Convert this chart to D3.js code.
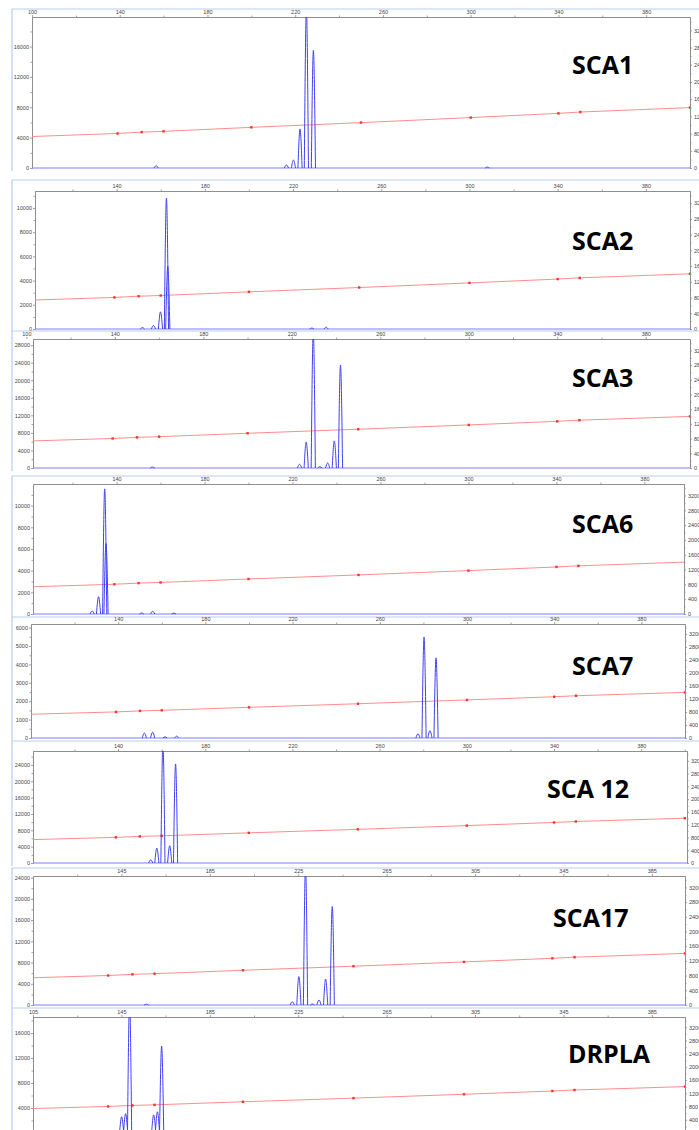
<!DOCTYPE html>
<html>
<head>
<meta charset="utf-8">
<script src="https://cdn.jsdelivr.net/npm/d3@7"></script>
<style>
  body { margin: 0; background: #fff; }
  svg { display: block; }
  .axis text { font-family: "Liberation Sans", Arial, sans-serif; font-size: 5.5px; fill: #444; }
  .axis path, .axis line { stroke: #8a8a8a; stroke-width: 0.8; }
  .name { font-family: "Open Sans", sans-serif; font-weight: 700; font-size: 25px; fill: #000; }
</style>
</head>
<body>
<svg id="chart"></svg>
<script>
'use strict';
// stacked electropherograms, one per repeat locus
// x = fragment size (bp), left axis = RFU, right axis = sizing curve units

const panelNames = ['SCA1', 'SCA2', 'SCA3', 'SCA6', 'SCA7', 'SCA 12', 'SCA17', 'DRPLA'];
const sizeStart = [100, 103, 103, 102, 100, 101, 105, 105];
const sizeEnd = [400, 400, 400, 398, 400, 401, 400, 400];
// first labelled size on each top axis, then every 40 bp
const sizeLabelStart = [100, 140, 100, 140, 140, 140, 145, 105];
const rfuMax = [19900, 11400, 29400, 12000, 6200, 27400, 24300, 18560];
const rfuStep = [4000, 2000, 4000, 2000, 1000, 4000, 4000, 4000];
const rightMax = 3510;
const rightTicks = [0, 400, 800, 1200, 1600, 2000, 2400, 2800, 3200];

// size standard fragments and the fitted sizing curve
const ladderSizes = [139, 150, 160, 200, 250, 300, 340, 350, 400];
const sizingCurve = [[100, 732], [139, 803], [150, 834], [160, 852], [200, 945], [250, 1055],
  [300, 1172], [340, 1270], [350, 1301], [400, 1404]];

// peaks: [size bp, height RFU]
const peaksSCA1 = [[156.6, 300], [216.0, 400], [219.2, 1050], [222.2, 5150], [225.1, 21000], [228.3, 15500], [307.6, 120]];
const peaksSCA2 = [[151.7, 120], [156.7, 280], [159.9, 1420], [162.6, 10800], [163.2, 5200], [228.5, 80], [235.0, 150]];
const peaksSCA3 = [[157.0, 200], [223.5, 850], [226.5, 5940], [229.7, 31000], [232.7, 300], [236.2, 1150], [239.2, 6170], [242.0, 23470]];
const peaksSCA6 = [[128.9, 280], [131.8, 1600], [134.6, 11550], [135.2, 6500], [151.4, 100], [156.4, 250], [166.0, 80]];
const peaksSCA7 = [[152.0, 270], [155.8, 320], [161.5, 60], [166.8, 100], [277.5, 230], [280.3, 5490], [283.0, 400], [285.8, 4360]];
const peaksSCA12 = [[155.0, 800], [157.8, 3650], [160.6, 29000], [163.7, 4220], [166.4, 24220]];
const peaksSCA17 = [[156.3, 150], [222.3, 620], [225.3, 5340], [228.3, 26000], [231.4, 200], [234.4, 940], [237.4, 4900], [240.4, 18550]];
const peaksDRPLA = [[145.1, 2600], [146.9, 3100], [148.7, 21000], [159.6, 2900], [161.3, 3400], [163.2, 13900]];
const panelPeaks = [peaksSCA1, peaksSCA2, peaksSCA3, peaksSCA6, peaksSCA7, peaksSCA12, peaksSCA17, peaksDRPLA];

// where each screenshot sits on the page
const frames = [
  {top: 9, plotTop: 17, plotBottom: 168, left: 32, right: 690, labelX: 572, labelY: 74},
  {top: 180, plotTop: 191, plotBottom: 329, left: 35, right: 690, labelX: 572, labelY: 250},
  {top: 331, plotTop: 339, plotBottom: 468, left: 33, right: 690, labelX: 572, labelY: 387},
  {top: 476, plotTop: 484, plotBottom: 614, left: 33, right: 684, labelX: 572, labelY: 533},
  {top: 617, plotTop: 624, plotBottom: 738, left: 31, right: 685, labelX: 572, labelY: 675},
  {top: 741, plotTop: 751, plotBottom: 863, left: 33, right: 687, labelX: 547, labelY: 798},
  {top: 868, plotTop: 876, plotBottom: 1005, left: 33, right: 685, labelX: 553, labelY: 927},
  {top: 1008, plotTop: 1017, plotBottom: 1133, left: 33, right: 685, labelX: 568, labelY: 1063}
];

const width = 699, height = 1130;
const peakHalfWidth = 0.95;

const svg = d3.select('#chart')
  .attr('width', width)
  .attr('height', height);

svg.append('rect').attr('width', width).attr('height', height).attr('fill', '#fff');

panelNames.forEach(function(name, i){
  const f = frames[i];
  const g = svg.append('g');

  // screenshot border
  g.append('line')
    .attr('x1', 12).attr('x2', width)
    .attr('y1', f.top).attr('y2', f.top)
    .attr('stroke', '#b9cdea').attr('stroke-width', 1.2);
  g.append('line')
    .attr('x1', 12).attr('x2', 12)
    .attr('y1', f.top).attr('y2', f.plotBottom + 3)
    .attr('stroke', '#b9cdea').attr('stroke-width', 1.2);

  const x = d3.scaleLinear()
    .domain([sizeStart[i], sizeEnd[i]])
    .range([f.left, f.right]);
  const y = d3.scaleLinear()
    .domain([0, rfuMax[i]])
    .range([f.plotBottom, f.plotTop]);
  const yRight = d3.scaleLinear()
    .domain([0, rightMax])
    .range([f.plotBottom, f.plotTop]);

  // top size axis: labels every 40, small ticks in between
  const majorSizes = d3.range(sizeLabelStart[i], sizeEnd[i] + 0.01, 40);
  const minorSizes = d3.range(sizeLabelStart[i] - 20, sizeEnd[i], 40).filter(v => v > sizeStart[i]);
  g.append('g').attr('class', 'axis')
    .attr('transform', `translate(0,${f.plotTop})`)
    .call(d3.axisTop(x).tickValues(majorSizes).tickSize(2).tickPadding(1).tickSizeOuter(0).tickFormat(d3.format('d')));
  g.append('g').attr('class', 'axis')
    .attr('transform', `translate(0,${f.plotTop})`)
    .call(d3.axisTop(x).tickValues(minorSizes).tickSize(1.5).tickSizeOuter(0).tickFormat(''));

  // left RFU axis
  const majorRfu = d3.range(0, rfuMax[i], rfuStep[i]);
  const minorRfu = d3.range(rfuStep[i] / 2, rfuMax[i], rfuStep[i]);
  g.append('g').attr('class', 'axis')
    .attr('transform', `translate(${f.left},0)`)
    .call(d3.axisLeft(y).tickValues(majorRfu).tickSize(2).tickPadding(1).tickSizeOuter(0).tickFormat(d3.format('d')));
  g.append('g').attr('class', 'axis')
    .attr('transform', `translate(${f.left},0)`)
    .call(d3.axisLeft(y).tickValues(minorRfu).tickSize(1.5).tickSizeOuter(0).tickFormat(''));

  // right axis, labels run off the page edge like the screenshot
  g.append('g').attr('class', 'axis')
    .attr('transform', `translate(${f.right},0)`)
    .call(d3.axisRight(yRight).tickValues(rightTicks).tickSize(2).tickPadding(2).tickSizeOuter(0).tickFormat(d3.format('d')));
  g.append('g').attr('class', 'axis')
    .attr('transform', `translate(${f.right},0)`)
    .call(d3.axisRight(yRight).tickValues(rightTicks.map(v => v + 200)).tickSize(1.5).tickSizeOuter(0).tickFormat(''));

  const clipId = 'clip' + i;
  g.append('clipPath').attr('id', clipId)
    .append('rect')
    .attr('x', f.left).attr('y', f.plotTop)
    .attr('width', f.right - f.left).attr('height', f.plotBottom - f.plotTop + 1.5);

  const plot = g.append('g').attr('clip-path', `url(#${clipId})`);

  // sizing curve
  const curveLine = d3.line()
    .x(d => x(d[0]))
    .y(d => yRight(d[1]));
  plot.append('path')
    .datum(sizingCurve)
    .attr('d', curveLine)
    .attr('fill', 'none')
    .attr('stroke', '#ff8c8c')
    .attr('stroke-width', 1);
  plot.selectAll('rect.ladder')
    .data(sizingCurve.filter(d => ladderSizes.includes(d[0])))
    .enter()
    .append('rect')
    .attr('class', 'ladder')
    .attr('x', d => x(d[0]) - 1.2)
    .attr('y', d => yRight(d[1]) - 1.2)
    .attr('width', 2.4)
    .attr('height', 2.4)
    .attr('fill', '#ff3030');

  // blue trace: baseline plus one bell per peak
  plot.append('line')
    .attr('x1', x(sizeStart[i])).attr('x2', x(sizeEnd[i]))
    .attr('y1', y(0)).attr('y2', y(0))
    .attr('stroke', '#7f7fff')
    .attr('stroke-width', 1.2);

  const peakLine = d3.line()
    .x(d => x(d[0]))
    .y(d => y(d[1]))
    .curve(d3.curveMonotoneX);
  plot.selectAll('path.peak')
    .data(panelPeaks[i])
    .enter()
    .append('path')
    .attr('class', 'peak')
    .attr('d', d => peakLine([[d[0] - peakHalfWidth, 0], [d[0], d[1]], [d[0] + peakHalfWidth, 0]]))
    .attr('fill', 'none')
    .attr('stroke', '#4040f2')
    .attr('stroke-width', 1);

  g.append('text')
    .attr('class', 'name')
    .attr('x', f.labelX)
    .attr('y', f.labelY)
    .text(name);
});
</script>
</body>
</html>
